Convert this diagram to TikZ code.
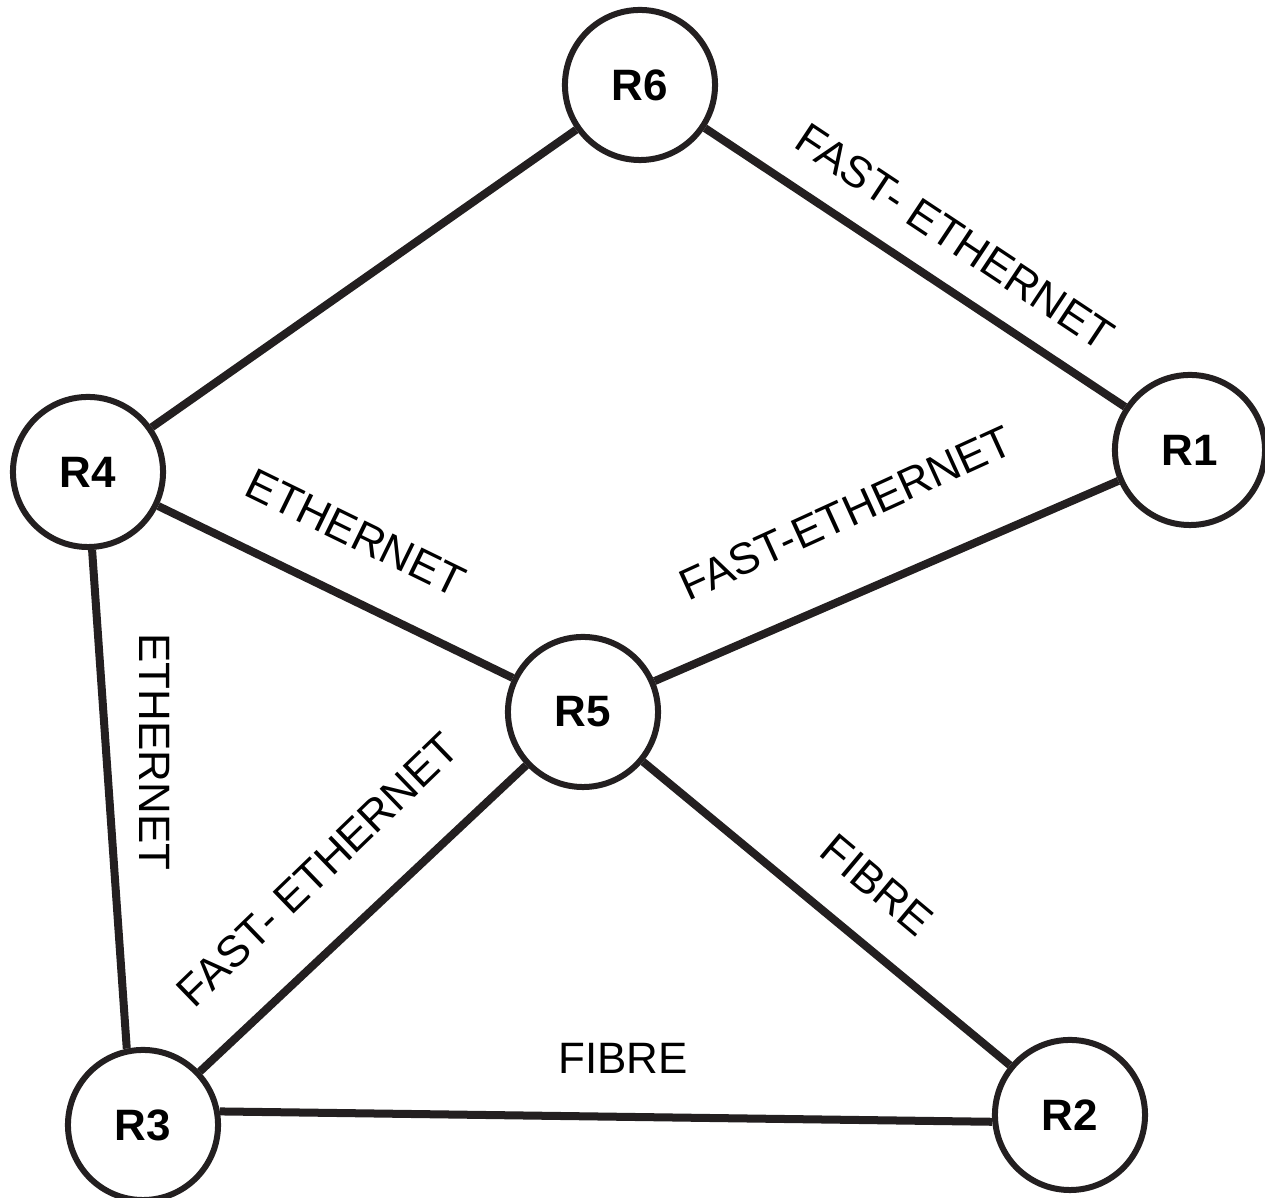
\documentclass[tikz,border=0pt]{standalone}
\usepackage{fontspec}
\setmainfont{Liberation Sans}
\definecolor{ink}{RGB}{35,31,32}

\begin{document}
\begin{tikzpicture}[x=0.01cm, y=-0.01cm, line width=0.08cm, ink,
  main/.style = {draw, circle, fill=white, line width=0.06cm, minimum size=1.5cm, inner sep=0pt, text=black, font=\fontsize{12.5}{15}\selectfont\bfseries},
  lbl/.style = {inner sep=0pt, text=black, font=\fontsize{12.5}{15}\selectfont}]
\useasboundingbox (0,0) rectangle (1265,1198);
% routers
\node[main] (6) at (640,85) {R6};
\node[main] (1) at (1190,450) {R1};
\node[main] (4) at (88,472) {R4};
\node[main] (5) at (583,712) {R5};
\node[main] (3) at (143,1125) {R3};
\node[main] (2) at (1070,1115) {R2};
% links
\draw (6) -- (4);
\draw (6) -- (1);
\draw (4) -- (5);
\draw (5) -- (1);
\draw (4.-87) -- (3.102);
\draw (3) -- (5);
\draw (5) -- (2);
\draw (3.10) -- (2.185);
% link types
\node[lbl, rotate=-33.6] (l61) at (955,237) {FAST- ETHERNET};
\node[lbl, rotate=24.5] (l51) at (846,513) {FAST-ETHERNET};
\node[lbl, rotate=-26] (l45) at (356,533) {ETHERNET};
\node[lbl, rotate=-90] (l43) at (155,752) {ETHERNET};
\node[lbl, rotate=44] (l35) at (318,870) {FAST- ETHERNET};
\node[lbl, rotate=-40] (l52) at (877,885) {FIBRE};
\node[lbl] (l32) at (623,1058) {FIBRE};
\end{tikzpicture}
\end{document}
